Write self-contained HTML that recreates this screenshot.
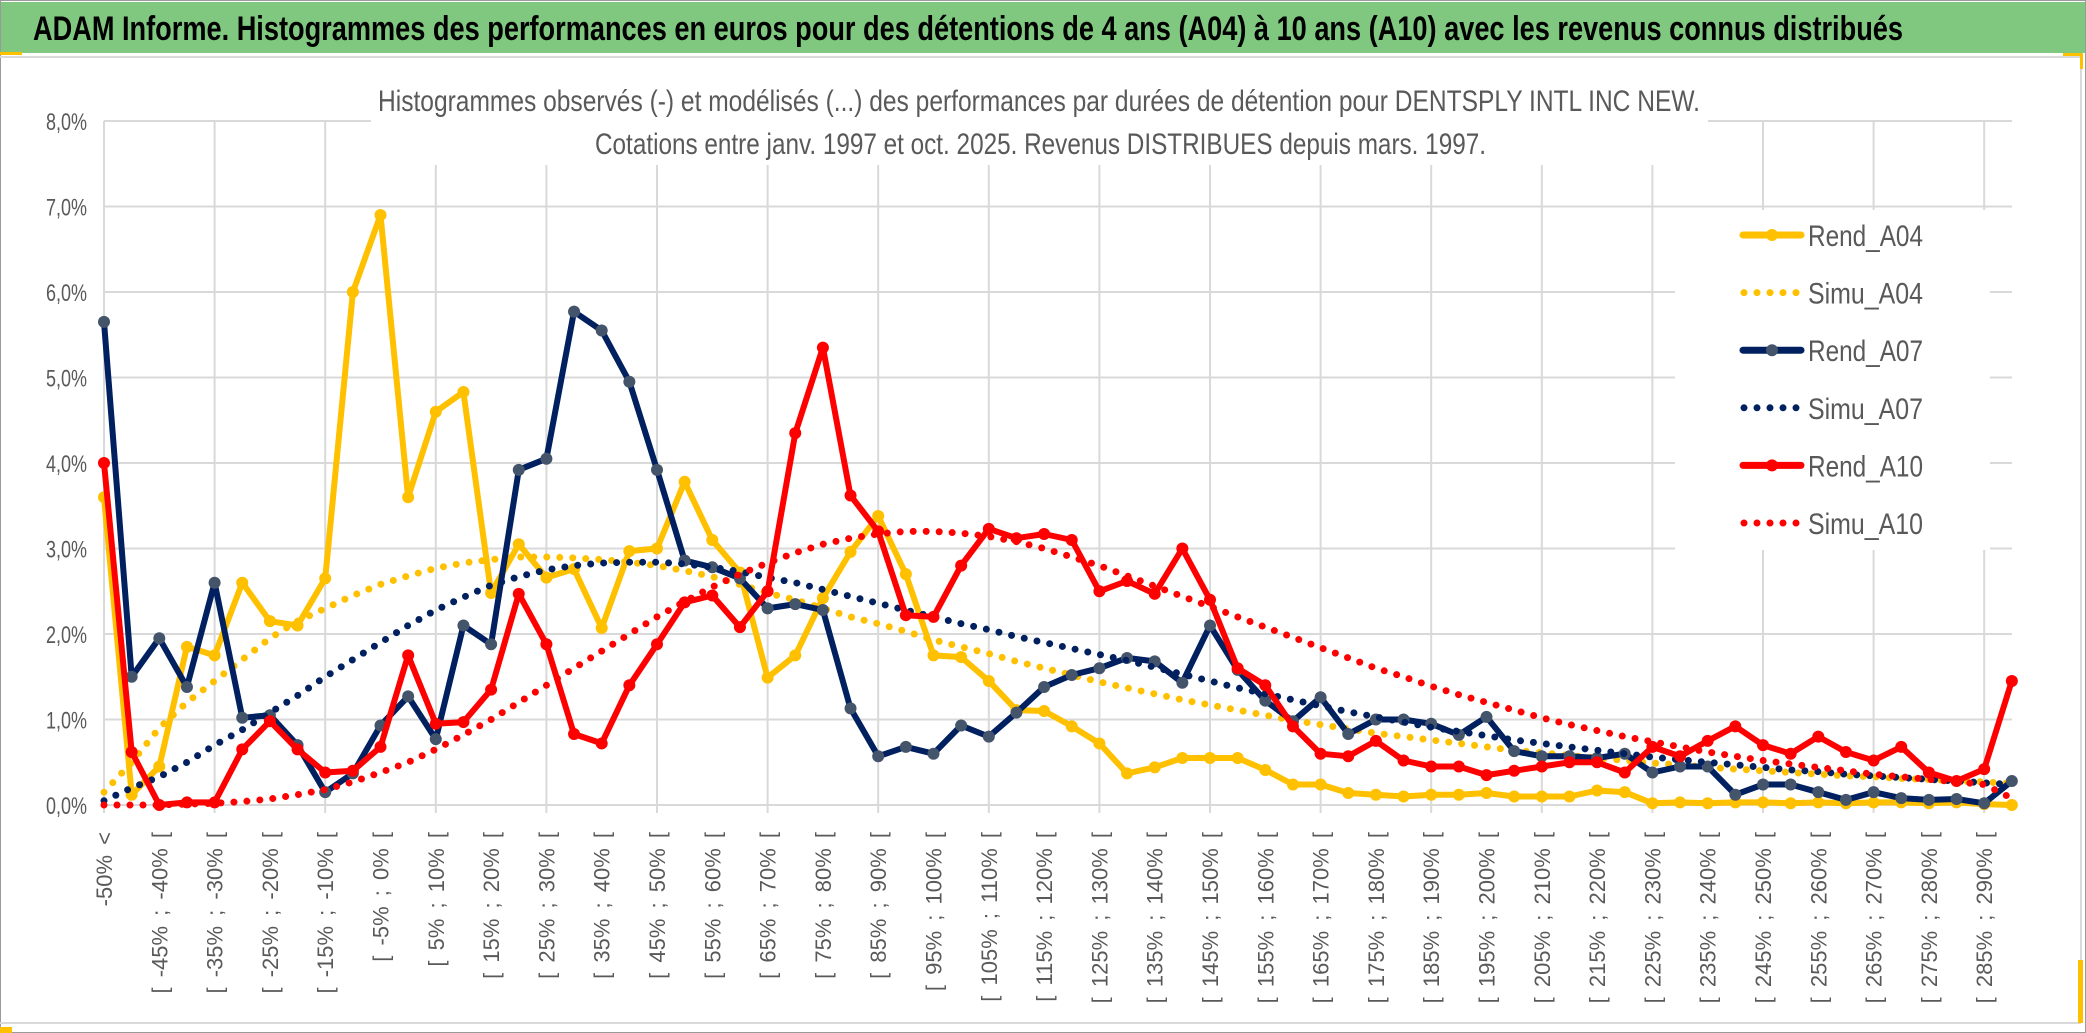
<!DOCTYPE html>
<html><head><meta charset="utf-8"><title>ADAM Informe</title>
<style>
html,body{margin:0;padding:0;background:#fff;}
svg{display:block;}
text{font-family:"Liberation Sans",sans-serif;}
</style></head>
<body>
<svg id="chart" width="2086" height="1033" viewBox="0 0 2086 1033" xmlns="http://www.w3.org/2000/svg">
  <rect x="0" y="0" width="2086" height="1033" fill="#fff"/>
  <rect x="0.5" y="0.5" width="2085" height="1032" fill="none" stroke="#9a9a9a" stroke-width="1"/>
  <rect x="1" y="2" width="2084" height="51" fill="#80C880"/>
  <rect x="0" y="52" width="22" height="3" fill="#FFC000"/>
  <line x1="0" y1="57" x2="2080" y2="57" stroke="#d9d9d9" stroke-width="2"/>
  <line x1="2081" y1="57" x2="2081" y2="1023" stroke="#d9d9d9" stroke-width="2"/>
  <line x1="0" y1="1023" x2="2081" y2="1023" stroke="#d9d9d9" stroke-width="2"/>
  <rect x="2063" y="53" width="20" height="3" fill="#FFC000"/>
  <rect x="2080" y="53" width="3" height="16" fill="#FFC000"/>
  <rect x="0" y="1027" width="12" height="6" fill="#FFC000"/>
  <rect x="2078" y="960" width="5" height="63" fill="#FFC000"/>
  <text x="33" y="40" font-size="34" font-weight="bold" fill="#000" textLength="1870" lengthAdjust="spacingAndGlyphs">ADAM Informe. Histogrammes des performances en euros pour des détentions de 4 ans (A04) à 10 ans (A10) avec les revenus connus distribués</text>
  <g id="grid"></g>
  <rect x="371" y="70" width="1337" height="95" fill="#fff"/>
  <text x="378" y="111" font-size="30" fill="#595959" textLength="1322" lengthAdjust="spacingAndGlyphs">Histogrammes observés (-) et modélisés (...) des performances par durées de détention pour DENTSPLY INTL INC NEW.</text>
  <text x="595" y="154" font-size="30" fill="#595959" textLength="891" lengthAdjust="spacingAndGlyphs">Cotations entre janv. 1997 et oct. 2025. Revenus DISTRIBUES depuis mars. 1997.</text>
  <rect x="1675" y="210" width="315" height="340" fill="#fff"/>
  <g id="yaxis"></g>
  <g id="xaxis"></g>
  <g id="series"></g>
  <g id="legend"></g>
</svg>
<script>
const categoryCount = 70;
const yTicks = [0, 1, 2, 3, 4, 5, 6, 7, 8];
const yTickLabels = ["0,0%","1,0%","2,0%","3,0%","4,0%","5,0%","6,0%","7,0%","8,0%"];
const rendA04 = [3.6,0.12,0.45,1.85,1.75,2.6,2.15,2.1,2.65,6.0,6.9,3.6,4.6,4.83,2.48,3.05,2.66,2.76,2.07,2.97,3.0,3.78,3.1,2.72,1.49,1.75,2.42,2.96,3.38,2.7,1.75,1.73,1.45,1.11,1.1,0.92,0.72,0.37,0.44,0.55,0.55,0.55,0.41,0.24,0.24,0.14,0.12,0.1,0.12,0.12,0.14,0.1,0.1,0.1,0.17,0.15,0.02,0.03,0.02,0.03,0.03,0.02,0.03,0.02,0.03,0.03,0.02,0.03,0.01,0.0];
const simuA04 = [0.15,0.5,0.9,1.2,1.45,1.7,1.95,2.15,2.3,2.45,2.58,2.68,2.77,2.83,2.87,2.9,2.9,2.89,2.87,2.84,2.8,2.74,2.67,2.58,2.48,2.4,2.3,2.2,2.12,2.03,1.93,1.85,1.77,1.68,1.6,1.52,1.44,1.37,1.3,1.23,1.17,1.11,1.05,0.99,0.94,0.89,0.84,0.8,0.76,0.72,0.68,0.64,0.61,0.58,0.55,0.52,0.49,0.47,0.44,0.42,0.4,0.38,0.36,0.34,0.33,0.31,0.3,0.28,0.27,0.25];
const rendA07 = [5.65,1.5,1.95,1.38,2.6,1.02,1.05,0.7,0.15,0.37,0.93,1.27,0.77,2.1,1.88,3.92,4.05,5.77,5.55,4.95,3.92,2.86,2.78,2.65,2.3,2.35,2.28,1.13,0.57,0.68,0.6,0.93,0.8,1.08,1.38,1.52,1.6,1.72,1.68,1.43,2.1,1.58,1.22,0.98,1.26,0.83,1.0,1.0,0.95,0.82,1.03,0.63,0.57,0.57,0.55,0.6,0.38,0.45,0.45,0.12,0.24,0.24,0.15,0.06,0.15,0.08,0.06,0.07,0.02,0.28];
const simuA07 = [0.05,0.2,0.33,0.5,0.7,0.88,1.08,1.28,1.5,1.7,1.9,2.1,2.28,2.43,2.57,2.67,2.75,2.8,2.83,2.84,2.84,2.82,2.78,2.73,2.66,2.6,2.52,2.44,2.36,2.28,2.2,2.12,2.05,1.97,1.9,1.83,1.76,1.69,1.61,1.53,1.45,1.37,1.3,1.23,1.16,1.09,1.03,0.97,0.91,0.86,0.81,0.76,0.72,0.68,0.64,0.6,0.56,0.53,0.5,0.47,0.44,0.41,0.39,0.36,0.34,0.32,0.3,0.28,0.26,0.24];
const rendA10 = [4.0,0.62,0.0,0.03,0.03,0.65,0.98,0.65,0.38,0.4,0.68,1.75,0.95,0.97,1.35,2.47,1.88,0.83,0.72,1.4,1.88,2.37,2.45,2.08,2.5,4.35,5.35,3.62,3.2,2.22,2.2,2.8,3.23,3.12,3.17,3.1,2.5,2.62,2.47,3.0,2.4,1.6,1.4,0.92,0.6,0.57,0.75,0.52,0.45,0.45,0.35,0.4,0.45,0.5,0.5,0.38,0.68,0.57,0.75,0.92,0.7,0.6,0.8,0.62,0.52,0.68,0.38,0.28,0.42,1.45];
const simuA10 = [0.0,0.0,0.0,0.01,0.02,0.04,0.07,0.12,0.18,0.27,0.38,0.5,0.65,0.82,1.0,1.2,1.4,1.6,1.8,2.0,2.2,2.38,2.55,2.7,2.83,2.95,3.05,3.12,3.17,3.2,3.2,3.18,3.14,3.08,3.0,2.9,2.8,2.68,2.56,2.44,2.32,2.2,2.08,1.96,1.84,1.72,1.6,1.5,1.39,1.29,1.2,1.11,1.02,0.94,0.87,0.8,0.74,0.68,0.62,0.57,0.52,0.48,0.44,0.4,0.36,0.33,0.3,0.27,0.24,0.08];
const seriesNames = ["Rend_A04","Simu_A04","Rend_A07","Simu_A07","Rend_A10","Simu_A10"];

const NS = "http://www.w3.org/2000/svg";
const X0 = 104, XSTEP = 27.65, Y0 = 805, YUNIT = 85.5, XEND = 2012;
function xScale(k){ return X0 + k * XSTEP; }
function yScale(v){ return Y0 - v * YUNIT; }
function mk(tag, attrs, parent){ const e = document.createElementNS(NS, tag); for (const k in attrs) e.setAttribute(k, attrs[k]); parent.appendChild(e); return e; }
function catLabel(k){ if (k === 0) return "-50% <"; const a = -55 + 5*k; return "[ " + a + "% ; " + (a+5) + "% ["; }

const grid = document.getElementById("grid");
for (let i = 0; i < yTicks.length; i++) {
  const y = yScale(yTicks[i]);
  const l = mk("line", {x1: X0, x2: XEND, y1: y, y2: y, stroke: "#D9D9D9", "stroke-width": 2}, grid);
  
  
}
for (let k = 0; k < categoryCount; k += 4) {
  const x = xScale(k);
  const l = mk("line", {x1: x, x2: x, y1: yScale(8), y2: Y0 + 8, stroke: "#D9D9D9", "stroke-width": 2}, grid);
  
  
}

const yaxis = document.getElementById("yaxis");
for (let i = 0; i < yTicks.length; i++) {
  const t = mk("text", {x: 87, y: yScale(yTicks[i]) + 9, "text-anchor": "end", "font-size": 24, fill: "#595959", textLength: 41, lengthAdjust: "spacingAndGlyphs"}, yaxis);
  t.textContent = yTickLabels[i];
  
  
}

const xaxis = document.getElementById("xaxis");
for (let k = 0; k < categoryCount; k += 2) {
  const x = xScale(k) + 8;
  const t = mk("text", {x: x, y: 832, "text-anchor": "end", "font-size": 22, "word-spacing": 4, fill: "#595959", transform: "rotate(-90 " + x + " 832)"}, xaxis);
  t.textContent = catLabel(k);
  
  
}

const seriesG = document.getElementById("series");
function drawLine(vals, color, marker, name){
  const pts = vals.map((v,k) => xScale(k).toFixed(1) + "," + yScale(v).toFixed(1)).join(" ");
  const p = mk("polyline", {points: pts, fill: "none", stroke: color, "stroke-width": 6, "stroke-linejoin": "round"}, seriesG);
  
  
  vals.forEach((v,k) => {
    const c = mk("circle", {cx: xScale(k), cy: yScale(v), r: 6, fill: marker}, seriesG);
    
    
  });
}
function drawDots(vals, color, name){
  let d = "";
  vals.forEach((v,k) => { d += (k ? " L" : "M") + xScale(k).toFixed(1) + "," + yScale(v).toFixed(1); });
  const p = mk("path", {d: d, fill: "none", stroke: color, "stroke-width": 7, "stroke-linecap": "round", "stroke-dasharray": "0 13"}, seriesG);
  
  
}
drawLine(rendA04, "#FFC000", "#FFC000", "rend-a04");
drawDots(simuA04, "#FFC000", "simu-a04");
drawLine(rendA07, "#002060", "#44546A", "rend-a07");
drawDots(simuA07, "#002060", "simu-a07");
drawLine(rendA10, "#FF0000", "#FF0000", "rend-a10");
drawDots(simuA10, "#FF0000", "simu-a10");

const legend = document.getElementById("legend");
const legColors = ["#FFC000","#FFC000","#002060","#002060","#FF0000","#FF0000"];
const legMarkers = ["#FFC000",null,"#44546A",null,"#FF0000",null];
for (let i = 0; i < seriesNames.length; i++) {
  const y = 235 + i * 57.6;
  const g = mk("g", {}, legend);
  
  
  if (i % 2 === 0) {
    mk("line", {x1: 1743, x2: 1801, y1: y, y2: y, stroke: legColors[i], "stroke-width": 7, "stroke-linecap": "round"}, g);
    mk("circle", {cx: 1772, cy: y, r: 6, fill: legMarkers[i]}, g);
  } else {
    mk("line", {x1: 1744, x2: 1800, y1: y, y2: y, stroke: legColors[i], "stroke-width": 7, "stroke-linecap": "round", "stroke-dasharray": "0 13"}, g);
  }
  const t = mk("text", {x: 1808, y: y + 11, "font-size": 30, fill: "#595959", textLength: 115, lengthAdjust: "spacingAndGlyphs"}, g);
  t.textContent = seriesNames[i];
}
</script>
</body></html>
